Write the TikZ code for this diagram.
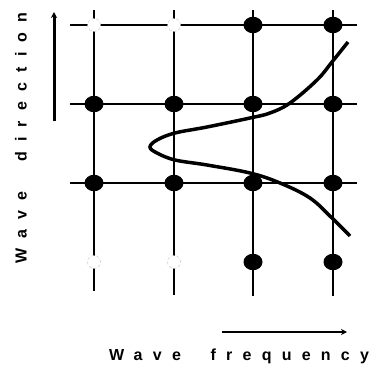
\documentclass[tikz,border=0pt]{standalone}
\usepackage{fontspec}
\usetikzlibrary{shapes.geometric,arrows.meta}
\newfontfamily\labfont[LetterSpace=64]{Liberation Sans Bold}
\newcommand\wgap{\rule{15pt}{0pt}}
\begin{document}
\begin{tikzpicture}[x=1pt,y=-1pt,
  gridline/.style={line width=2pt,black},
  dot/.style={ellipse,fill=black,minimum width=19pt,minimum height=16.5pt,inner sep=0pt},
  nodot/.style={circle,fill=white,draw=gray!50,densely dashed,line width=0.4pt,minimum size=13pt,inner sep=0pt},
  axisarrow/.style={line width=3pt,-{Stealth[length=6pt,width=6pt]}},
  curve/.style={line width=3.5pt,black},
  lab/.style={font=\labfont\fontsize{16}{19}\selectfont,inner sep=0pt}
]
\useasboundingbox (0,0) rectangle (378,370);
% grid lines
\draw[gridline] (70,25) coordinate (h1a) -- (357,25) coordinate (h1b);
\draw[gridline] (70,104) coordinate (h2a) -- (357,104) coordinate (h2b);
\draw[gridline] (70,183) coordinate (h3a) -- (357,183) coordinate (h3b);
\draw[gridline] (94,10) coordinate (v1a) -- (94,291) coordinate (v1b);
\draw[gridline] (174,10) coordinate (v2a) -- (174,295) coordinate (v2b);
\draw[gridline] (253,10) coordinate (v3a) -- (253,296) coordinate (v3b);
\draw[gridline] (333,10) coordinate (v4a) -- (333,296) coordinate (v4b);
% missing points
\node[nodot] (m11) at (94,25) {};
\node[nodot] (m12) at (174,25) {};
\node[nodot] (m41) at (94,262) {};
\node[nodot] (m42) at (174,262) {};
% dots
\node[dot] (d13) at (253,25) {};
\node[dot] (d14) at (333,25) {};
\node[dot] (d21) at (94,104) {};
\node[dot] (d22) at (174,104) {};
\node[dot] (d23) at (253,104) {};
\node[dot] (d24) at (333,104) {};
\node[dot] (d31) at (94,183) {};
\node[dot] (d32) at (174,183) {};
\node[dot] (d33) at (253,183) {};
\node[dot] (d34) at (333,183) {};
\node[dot] (d43) at (253,262) {};
\node[dot] (d44) at (333,262) {};
% spectrum curve
\draw[curve] plot[smooth,tension=0.6] coordinates {
  (348,42) (332,62) (317,80) (290,103) (270,113) (250,118) (207,127) (175,133) (157,140) (150,147)
  (157,153) (175,160) (207,165) (250,173) (280,183) (310,198) (332,218) (350,236)};
% axis arrows
\coordinate (ya) at (54,121);
\coordinate (yb) at (54,12);
\draw[axisarrow] (ya) -- (yb);
\coordinate (xa) at (222,332);
\coordinate (xb) at (347,332);
\draw[axisarrow,line width=2.5pt] (xa) -- (xb);
% labels
\node[lab,rotate=90] (ylab) at (21,138) {Wave \wgap direction};
\node[lab] (xlab) at (239,356) {Wave \wgap frequency};
\end{tikzpicture}
\end{document}
